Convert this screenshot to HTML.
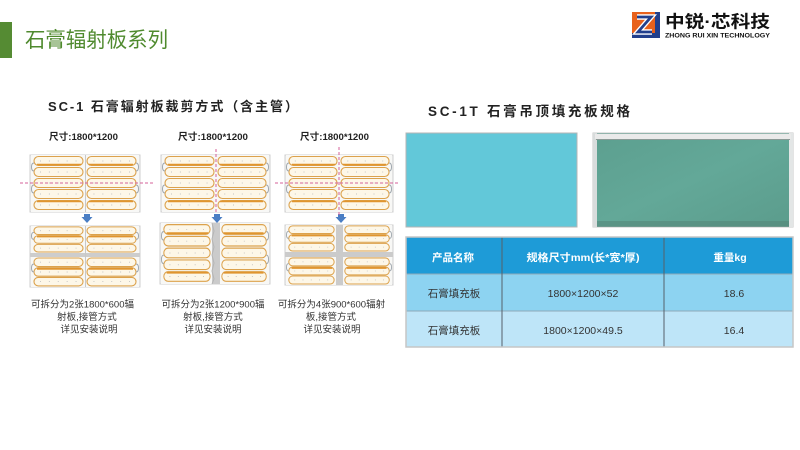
<!DOCTYPE html>
<html><head><meta charset="utf-8">
<style>
html,body{margin:0;padding:0;background:#fff;}
svg{display:block;font-family:"Liberation Sans","Noto Sans CJK SC",sans-serif;}
</style></head>
<body>
<svg width="800" height="450" viewBox="0 0 800 450" xmlns="http://www.w3.org/2000/svg" xmlns:xlink="http://www.w3.org/1999/xlink">
<defs>
  <symbol id="h5" viewBox="0 0 54 57" preserveAspectRatio="none">
    <rect x="0" y="0" width="54" height="57" fill="#f8f8f6"/>
    <g fill="#fdf7e8" stroke="#dca24c" stroke-width="1.1">
      <rect x="3" y="1.5" width="49" height="9" rx="4.5"/>
      <rect x="3" y="12.5" width="49" height="9" rx="4.5"/>
      <rect x="3" y="23.5" width="49" height="9" rx="4.5"/>
      <rect x="3" y="34.5" width="49" height="9" rx="4.5"/>
      <rect x="3" y="45.5" width="49" height="9" rx="4.5"/>
    </g>
    <g stroke="#e0952f" stroke-width="1.8">
      <line x1="6" y1="9.6" x2="50" y2="9.6"/>
      <line x1="6" y1="46.4" x2="50" y2="46.4"/>
    </g>
    <g stroke="#bdbdbd" stroke-width="0.9" stroke-dasharray="0.9 8">
      <line x1="9" y1="6" x2="50" y2="6"/>
      <line x1="9" y1="17" x2="50" y2="17"/>
      <line x1="9" y1="28" x2="50" y2="28"/>
      <line x1="9" y1="39" x2="50" y2="39"/>
      <line x1="9" y1="50" x2="50" y2="50"/>
    </g>
    <g fill="none" stroke="#9ea6ad" stroke-width="1">
      <path d="M3 8 q-2.5 0 -2.5 4 q0 4 2.5 4"/>
      <path d="M3 30 q-2.5 0 -2.5 4 q0 4 2.5 4"/>
    </g>
  </symbol>
  <symbol id="h3" viewBox="0 0 54 30" preserveAspectRatio="none">
    <rect x="0" y="0" width="54" height="30" fill="#f8f8f6"/>
    <g fill="#fdf7e8" stroke="#dca24c" stroke-width="1.1">
      <rect x="3" y="1" width="49" height="8.5" rx="4.2"/>
      <rect x="3" y="10.7" width="49" height="8.5" rx="4.2"/>
      <rect x="3" y="20.4" width="49" height="8.5" rx="4.2"/>
    </g>
    <g stroke="#e0952f" stroke-width="1.8">
      <line x1="6" y1="11.8" x2="50" y2="11.8"/>
    </g>
    <g stroke="#bdbdbd" stroke-width="0.9" stroke-dasharray="0.9 8">
      <line x1="9" y1="5.2" x2="50" y2="5.2"/>
      <line x1="9" y1="15" x2="50" y2="15"/>
      <line x1="9" y1="24.6" x2="50" y2="24.6"/>
    </g>
    <g fill="none" stroke="#9ea6ad" stroke-width="1">
      <path d="M3 7 q-2.5 0 -2.5 4 q0 4 2.5 4"/>
    </g>
  </symbol>
  <linearGradient id="photo" x1="0" y1="0" x2="1" y2="1">
    <stop offset="0" stop-color="#5c9f8f"/>
    <stop offset="0.5" stop-color="#63a898"/>
    <stop offset="1" stop-color="#5b9c8c"/>
  </linearGradient>
</defs>

<!-- header -->
<rect x="0" y="22" width="12" height="36" fill="#558b33"/>
<text x="25" y="47" font-size="21" fill="#4f8a2e" textLength="143" lengthAdjust="spacingAndGlyphs">石膏辐射板系列</text>

<!-- logo -->
<rect x="632" y="12" width="28" height="26" fill="#e8611c"/>
<rect x="655" y="12" width="5" height="26" fill="#223f8c"/>
<rect x="632" y="33" width="28" height="5" fill="#223f8c"/>
<polyline points="637,17 651,17 638,32 652,32" fill="none" stroke="#fff" stroke-width="5.5"/>
<polyline points="637,17 651,17 638,32 652,32" fill="none" stroke="#223f8c" stroke-width="2.8"/>
<text x="665" y="27.5" font-size="17" font-weight="bold" fill="#111" textLength="105" lengthAdjust="spacingAndGlyphs">中锐·芯科技</text>
<text x="665" y="37.5" font-size="6" font-weight="bold" fill="#111" textLength="105" lengthAdjust="spacingAndGlyphs">ZHONG RUI XIN TECHNOLOGY</text>

<!-- SC-1 heading -->
<text x="48" y="111" font-size="13" font-weight="bold" fill="#222" textLength="250" lengthAdjust="spacing">SC-1  石膏辐射板裁剪方式（含主管）</text>

<g font-size="9.5" font-weight="bold" fill="#222">
<text x="49" y="140" textLength="69" lengthAdjust="spacingAndGlyphs">尺寸:1800*1200</text>
<text x="178" y="140" textLength="70" lengthAdjust="spacingAndGlyphs">尺寸:1800*1200</text>
<text x="300" y="140" textLength="69" lengthAdjust="spacingAndGlyphs">尺寸:1800*1200</text>
</g>

<!-- Panel 1 top -->
<rect x="30" y="155" width="110" height="57" fill="#f4f4f4" stroke="#cfcfcf"/>
<use href="#h5" xlink:href="#h5" x="31" y="155" width="54" height="57"/>
<g transform="translate(139,155) scale(-1,1)"><use href="#h5" xlink:href="#h5" width="54" height="57"/></g>
<line x1="85.5" y1="155" x2="85.5" y2="212" stroke="#c8c8c8"/>
<!-- Panel 1 bottom -->
<rect x="30" y="226" width="110" height="61" fill="#f4f4f4" stroke="#cfcfcf"/>
<use href="#h3" xlink:href="#h3" x="31" y="226" width="54" height="27"/>
<g transform="translate(139,226) scale(-1,1)"><use href="#h3" xlink:href="#h3" width="54" height="27"/></g>
<rect x="30" y="253" width="110" height="4" fill="#cdcdcd"/>
<use href="#h3" xlink:href="#h3" x="31" y="257" width="54" height="30"/>
<g transform="translate(139,257) scale(-1,1)"><use href="#h3" xlink:href="#h3" width="54" height="30"/></g>
<line x1="85.5" y1="226" x2="85.5" y2="287" stroke="#c8c8c8"/>

<!-- Panel 2 top -->
<rect x="161" y="155" width="109" height="57" fill="#f4f4f4" stroke="#cfcfcf"/>
<use href="#h5" xlink:href="#h5" x="162" y="155" width="54" height="57"/>
<g transform="translate(269,155) scale(-1,1)"><use href="#h5" xlink:href="#h5" width="53" height="57"/></g>
<!-- Panel 2 bottom -->
<rect x="160" y="223" width="110" height="61" fill="#f4f4f4" stroke="#cfcfcf"/>
<use href="#h5" xlink:href="#h5" x="161" y="223" width="51" height="61"/>
<rect x="212" y="223" width="8" height="61" fill="#cbcbcb"/>
<path d="M212 223 l2 8 l-2 8 l2 8 l-2 8 l2 8 l-2 8 l2 8 l-2 5" fill="none" stroke="#b5b5b5"/>
<g transform="translate(269,223) scale(-1,1)"><use href="#h5" xlink:href="#h5" width="49" height="61"/></g>

<!-- Panel 3 top -->
<rect x="285" y="155" width="108" height="57" fill="#f4f4f4" stroke="#cfcfcf"/>
<use href="#h5" xlink:href="#h5" x="286" y="155" width="53" height="57"/>
<g transform="translate(392,155) scale(-1,1)"><use href="#h5" xlink:href="#h5" width="53" height="57"/></g>
<!-- Panel 3 bottom -->
<rect x="285" y="225" width="108" height="60" fill="#f4f4f4" stroke="#cfcfcf"/>
<use href="#h3" xlink:href="#h3" x="286" y="225" width="50" height="27"/>
<use href="#h3" xlink:href="#h3" x="286" y="257" width="50" height="28"/>
<g transform="translate(392,225) scale(-1,1)"><use href="#h3" xlink:href="#h3" width="49" height="27"/></g>
<g transform="translate(392,257) scale(-1,1)"><use href="#h3" xlink:href="#h3" width="49" height="28"/></g>
<rect x="336" y="225" width="7" height="60" fill="#cbcbcb"/>
<rect x="285" y="252" width="108" height="5" fill="#cbcbcb"/>

<!-- arrows -->
<g fill="#4a7ec4">
<path d="M84 214 h6 v3 h2.5 l-5.5 6 l-5.5 -6 h2.5 z"/>
<path d="M214 214 h6 v3 h2.5 l-5.5 6 l-5.5 -6 h2.5 z"/>
<path d="M338 214 h6 v3 h2.5 l-5.5 6 l-5.5 -6 h2.5 z"/>
</g>

<!-- dashed cut lines -->
<g stroke="#d4609a" stroke-width="1" stroke-dasharray="3 2" fill="none">
<line x1="20" y1="183" x2="153" y2="183"/>
<line x1="216" y1="149" x2="216" y2="214"/>
<line x1="339" y1="147" x2="339" y2="215"/>
<line x1="275" y1="183" x2="400" y2="183"/>
</g>

<!-- description text -->
<g font-size="9.5" fill="#333" text-anchor="middle">
<text x="82.5" y="307.5">可拆分为2张1800*600辐</text>
<text x="87" y="320">射板,接管方式</text>
<text x="89" y="332.5">详见安装说明</text>
<text x="213" y="307.5">可拆分为2张1200*900辐</text>
<text x="213" y="320">射板,接管方式</text>
<text x="213" y="332.5">详见安装说明</text>
<text x="331.5" y="307.5">可拆分为4张900*600辐射</text>
<text x="331" y="320">板,接管方式</text>
<text x="332" y="332.5">详见安装说明</text>
</g>

<!-- SC-1T heading -->
<text x="428" y="116" font-size="13.5" font-weight="bold" fill="#222" textLength="202" lengthAdjust="spacing">SC-1T  石膏吊顶填充板规格</text>

<!-- boards -->
<rect x="406" y="133" width="171" height="94" fill="#62c8d9" stroke="#b5b5b5" stroke-width="1"/>
<rect x="593" y="133" width="200" height="94" fill="url(#photo)" stroke="#c8c8c8" stroke-width="1"/>
<rect x="593" y="133" width="4" height="94" fill="#d8dcdc"/>
<rect x="789" y="133" width="4" height="94" fill="#e3e6e6"/>
<rect x="595" y="134" width="196" height="5" fill="#eaeaea"/>
<line x1="596" y1="139.5" x2="790" y2="139.5" stroke="#8a9a96" stroke-width="1"/>
<rect x="597" y="221" width="192" height="6" fill="#55877a" opacity="0.6"/>

<!-- table -->
<rect x="406" y="237" width="387" height="37" fill="#1e9bd7"/>
<rect x="406" y="274" width="387" height="37" fill="#8dd3f1"/>
<rect x="406" y="311" width="387" height="36" fill="#bee5f8"/>
<g stroke="#8fa9b8" stroke-width="1">
<line x1="406" y1="274" x2="793" y2="274"/>
<line x1="406" y1="311" x2="793" y2="311"/>
</g>
<g stroke="#55606a" stroke-width="1">
<line x1="502" y1="237" x2="502" y2="347"/>
<line x1="664" y1="237" x2="664" y2="347"/>
</g>
<rect x="406" y="237" width="387" height="110" fill="none" stroke="#c6c6c6" stroke-width="1.5"/>

<g font-size="10.5" fill="#fff" text-anchor="middle" font-weight="bold">
<text x="453" y="261">产品名称</text>
<text x="583" y="261" textLength="113" lengthAdjust="spacingAndGlyphs">规格尺寸mm(长*宽*厚)</text>
<text x="730" y="261">重量kg</text>
</g>
<g font-size="10.5" fill="#333" text-anchor="middle">
<text x="454" y="297">石膏填充板</text>
<text x="583" y="297">1800×1200×52</text>
<text x="734" y="297">18.6</text>
<text x="454" y="334">石膏填充板</text>
<text x="583" y="334">1800×1200×49.5</text>
<text x="734" y="334">16.4</text>
</g>
</svg>
</body></html>
